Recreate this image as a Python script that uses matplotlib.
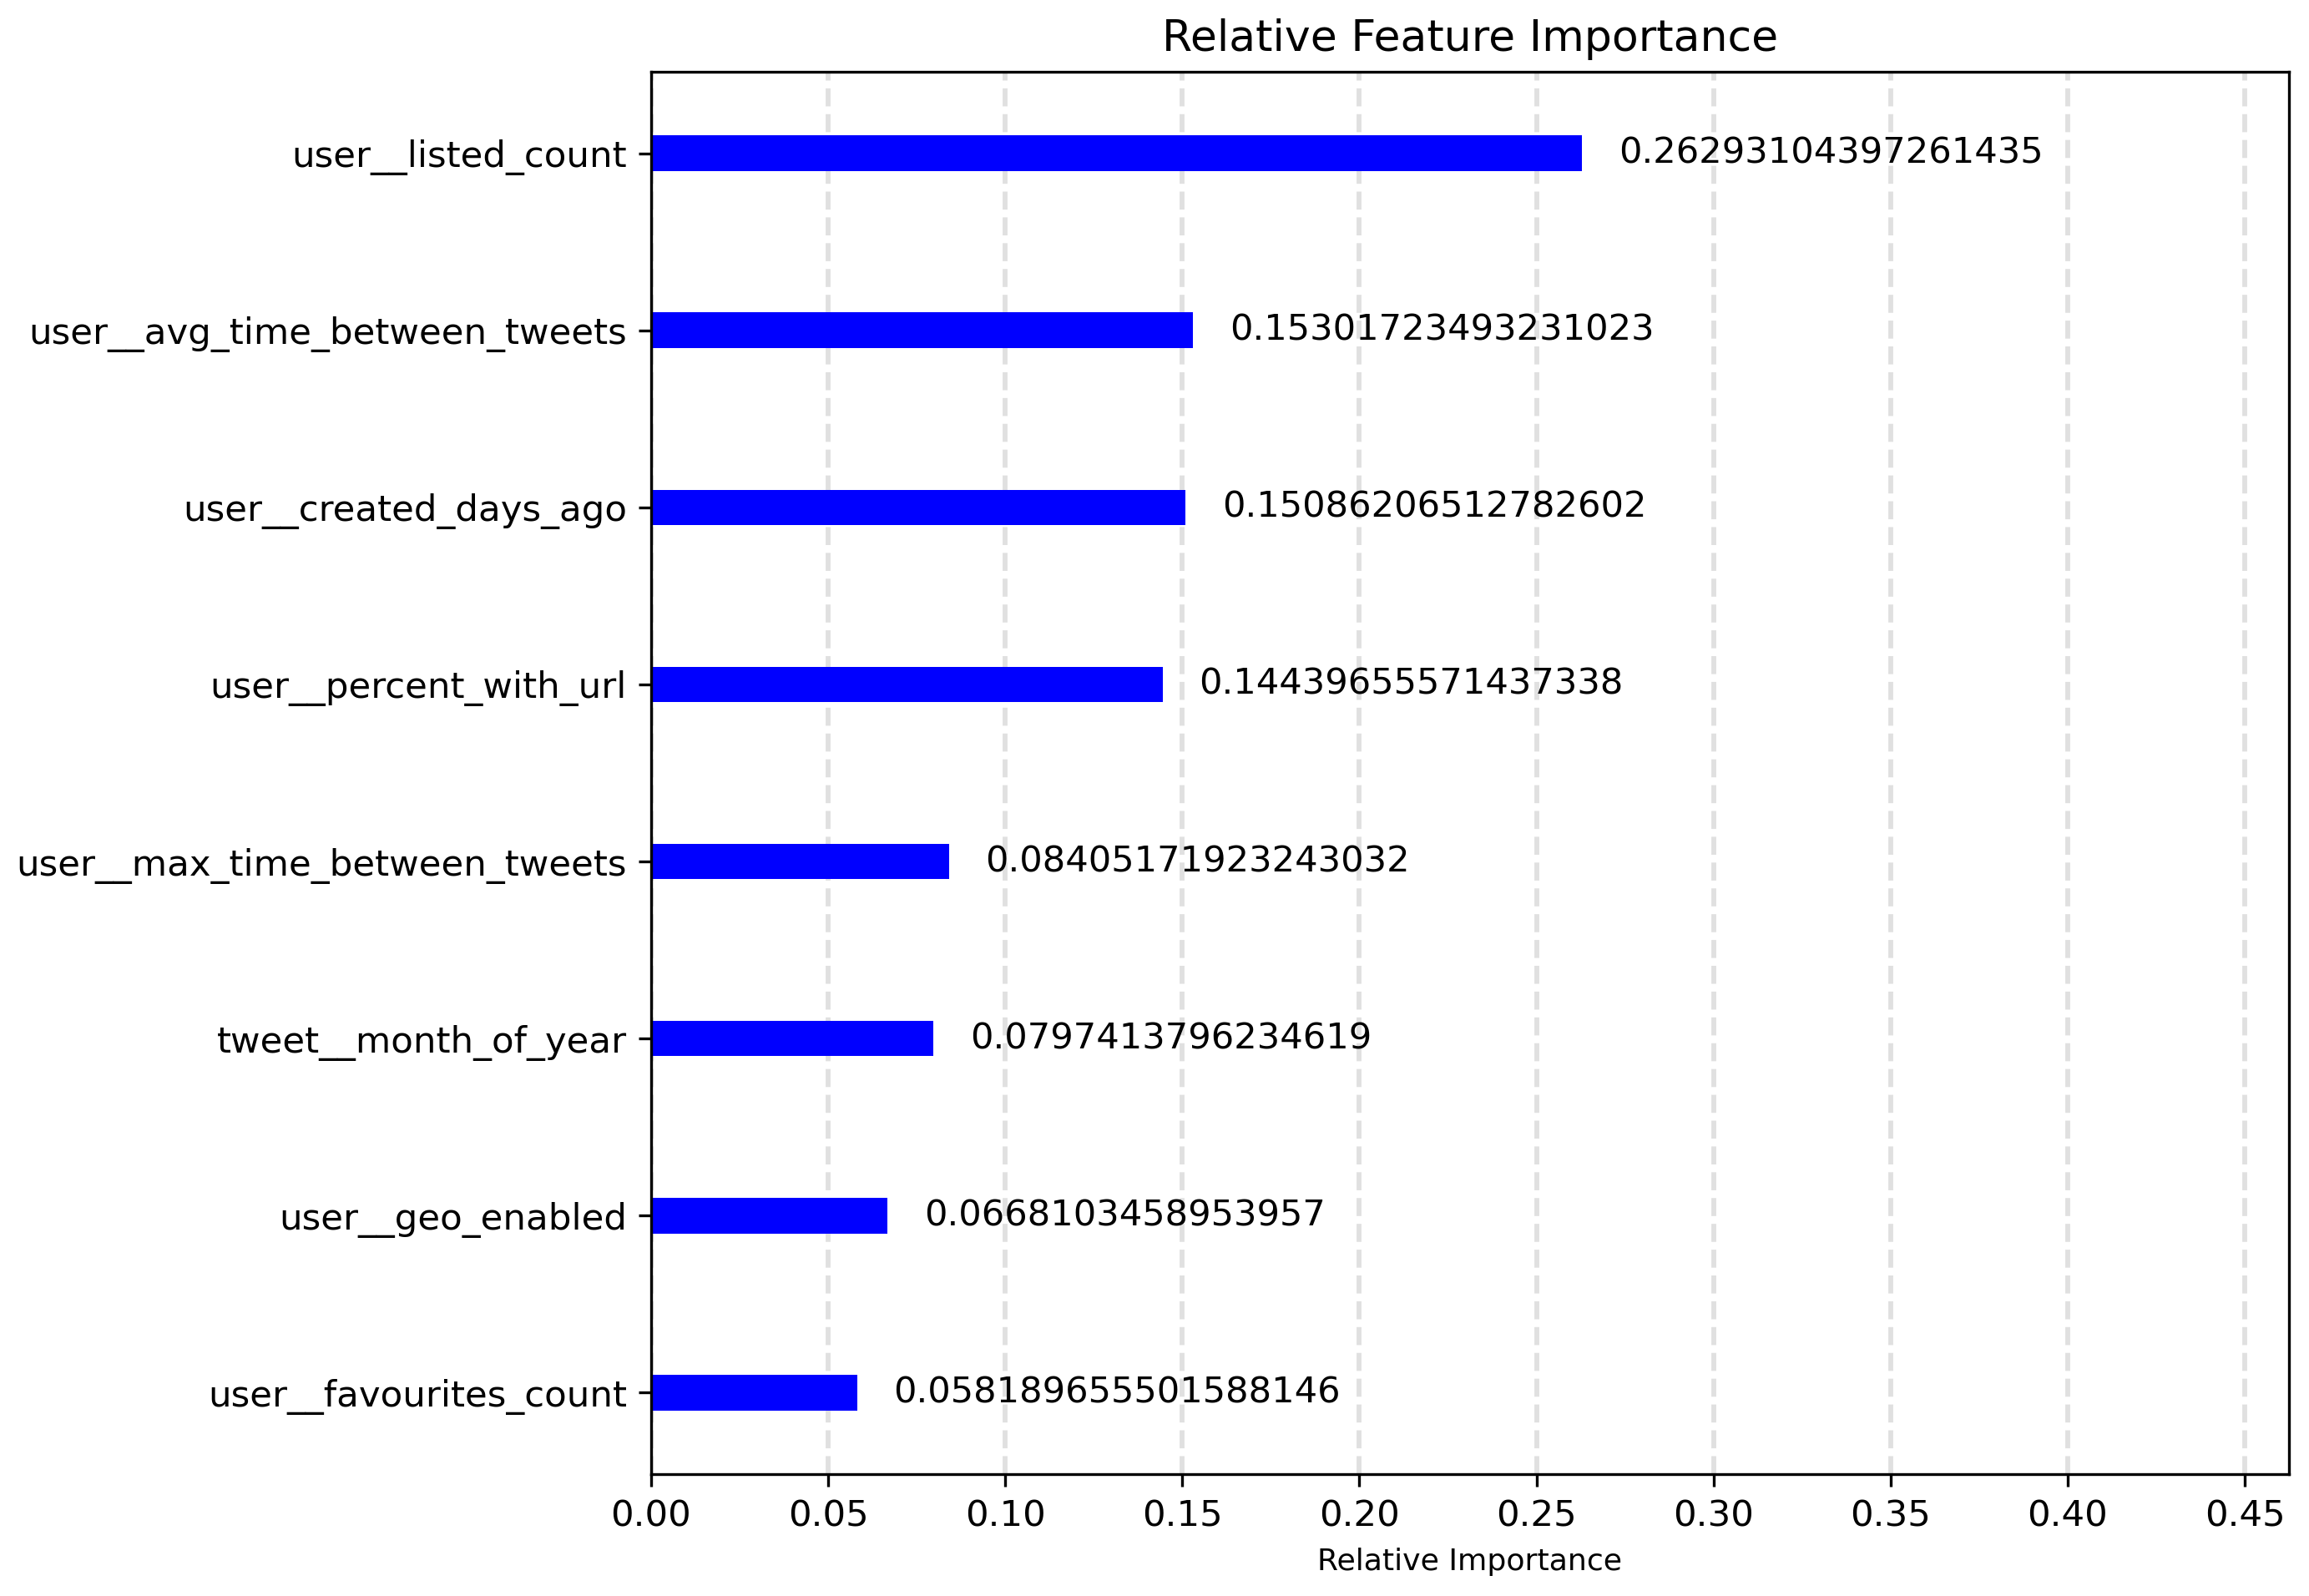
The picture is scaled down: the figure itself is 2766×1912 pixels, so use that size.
import matplotlib
matplotlib.use("Agg")
import matplotlib.pyplot as plt
import numpy as np

features = [
    "user__favourites_count",
    "user__geo_enabled",
    "tweet__month_of_year",
    "user__max_time_between_tweets",
    "user__percent_with_url",
    "user__created_days_ago",
    "user__avg_time_between_tweets",
    "user__listed_count",
]
importances = [
    0.058189655501588146,
    0.0668103458953957,
    0.0797413796234619,
    0.08405171923243032,
    0.14439655571437338,
    0.15086206512782602,
    0.15301723493231023,
    0.26293104397261435,
]
value_labels = [
    "0.058189655501588146",
    "0.0668103458953957",
    "0.0797413796234619",
    "0.08405171923243032",
    "0.14439655571437338",
    "0.15086206512782602",
    "0.15301723493231023",
    "0.26293104397261435",
]
xticks = [0.00, 0.05, 0.10, 0.15, 0.20, 0.25, 0.30, 0.35, 0.40, 0.45]

fig = plt.figure(figsize=(2766 / 300, 1912 / 300), dpi=300)
ax = fig.add_axes([780 / 2766, 1 - 1766 / 1912, (2742 - 780) / 2766, (1766 - 86) / 1912])

pos = np.arange(len(features))
ax.barh(pos, importances, height=0.2, color="blue", zorder=2)
for p, v, lab in zip(pos, importances, value_labels):
    ax.text(v + 0.0103, p, lab, va="center", ha="left", fontsize=10.4, color="black", zorder=3)

ax.set_yticks(pos)
ax.set_yticklabels(features, fontsize=10.45)
ax.set_xticks(xticks)
ax.set_xticklabels([f"{t:.2f}" for t in xticks], fontsize=10.45)
ax.set_xlim(0, 0.4625)
ax.grid(axis="x", linestyle="--", color="#e0e0e0", linewidth=1.4, zorder=0)
ax.set_axisbelow(True)
ax.set_xlabel("Relative Importance", fontsize=8.7)
ax.set_title("Relative Feature Importance", fontsize=12.5)

fig.savefig("out.png", dpi=300)
